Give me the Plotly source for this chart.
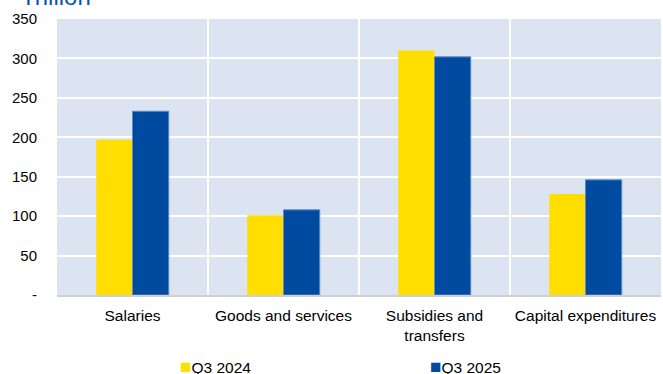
import plotly.graph_objects as go

categories = ["Salaries", "Goods and services", "Subsidies and<br>transfers", "Capital expenditures"]
q3_2024 = [197, 101, 310, 128]
q3_2025 = [233, 108, 302, 146]
y_tickvals = [0, 50, 100, 150, 200, 250, 300, 350]
y_ticktext = ["-", "50", "100", "150", "200", "250", "300", "350"]
series_names = ["Q3 2024", "Q3 2025"]
colors = ["#FFDE00", "#004B9F"]

fig = go.Figure()
fig.add_trace(go.Bar(x=categories, y=q3_2024, name=series_names[0],
                     marker=dict(color=colors[0], line=dict(width=0))))
fig.add_trace(go.Bar(x=categories, y=q3_2025, name=series_names[1],
                     marker=dict(color=colors[1], line=dict(color="#5E8BC8", width=1))))

font = "Liberation Sans, Arial, sans-serif"
fig.update_layout(
    width=663, height=374,
    margin=dict(l=57, r=2, t=19, b=79),
    paper_bgcolor="white",
    plot_bgcolor="#DBE4F0",
    barmode="group",
    bargap=0.52,
    bargroupgap=0,
    showlegend=False,
    font=dict(family=font, size=15.5, color="black"),
    xaxis=dict(
        type="category",
        tickson="boundaries",
        tickangle=0,
        automargin=False,
        showgrid=True, gridcolor="white", gridwidth=2,
        ticks="", showline=True, linecolor="#D0D0D0", linewidth=2,
        tickfont=dict(size=15.5, family=font, color="black"),
        ticklabelstandoff=5,
    ),
    yaxis=dict(
        range=[0, 350], tickvals=y_tickvals, ticktext=y_ticktext,
        automargin=False,
        showgrid=True, gridcolor="white", gridwidth=2,
        zeroline=False, ticks="", showline=False,
        tickfont=dict(size=15, family=font, color="black"),
        ticklabelstandoff=19,
    ),
)

# unit label at top-left (partly cut off in the reference)
fig.add_annotation(text="Trillion", xref="paper", yref="paper", x=0, y=1,
                   xanchor="left", yanchor="bottom", xshift=-38, yshift=7,
                   showarrow=False, font=dict(size=24, family=font, color="#0A55B4"))

# legend as annotations
leg_x = [178, 428]
for name, col, px in zip(series_names, colors, leg_x):
    fig.add_annotation(
        text=f"<span style='color:{col};font-size:19px'>■</span>{name}",
        xref="paper", yref="paper",
        x=(px - 57) / (663 - 57 - 2), y=0, yshift=-71,
        xanchor="left", yanchor="middle", showarrow=False,
        font=dict(size=15.5, family=font, color="black"))

fig.write_html("out.html")
